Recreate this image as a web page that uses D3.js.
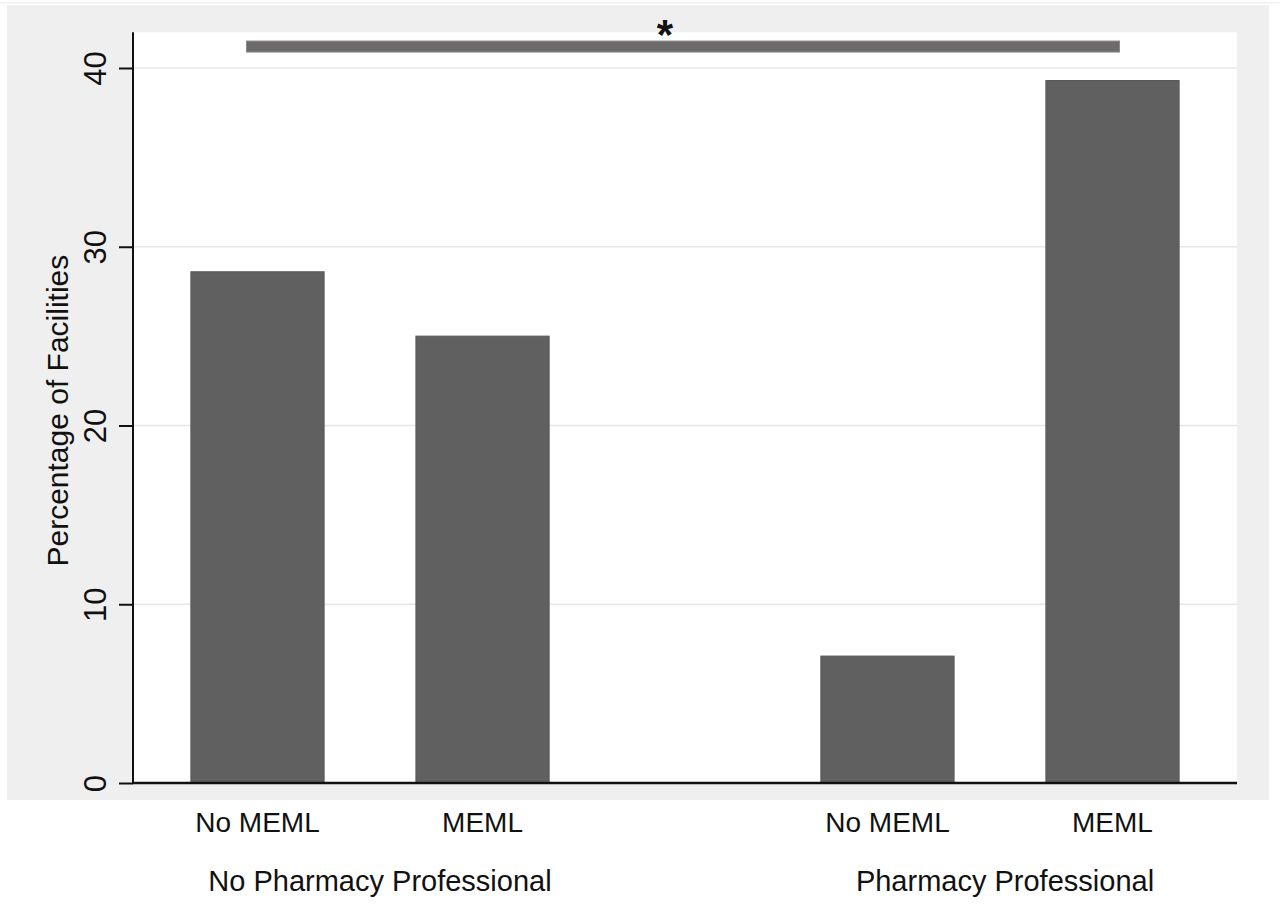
<!DOCTYPE html>
<html>
<head>
<meta charset="utf-8">
<script src="https://cdn.jsdelivr.net/npm/d3@7"></script>
<style>
  body { margin: 0; background: #fff; }
  svg { display: block; font-family: "Liberation Sans", Arial, sans-serif; }
</style>
</head>
<body>
<div class="chart"></div>
<script>
// values
const groups = ["No Pharmacy Professional", "Pharmacy Professional"];
const lists = ["No MEML", "MEML"];
const noPharmPct = [28.6, 25.0];
const pharmPct = [7.1, 39.3];
const yTicks = [0, 10, 20, 30, 40];
const sigLevel = 41.2;
const starLevel = 42.1;
const sigLabel = "*";

const data = [];
groups.forEach((g, i) => {
    const vals = i === 0 ? noPharmPct : pharmPct;
    lists.forEach((l, j) => data.push({group: g, list: l, pct: vals[j]}));
});

const width = 1280, height = 908;
const plot = {left: 133, right: 1237, bottom: 783};

const svg = d3.select('.chart').append('svg')
    .attr("width", width)
    .attr("height", height);

// outer grey panel
svg.append("rect")
    .attr("x", 0).attr("y", 2).attr("width", width).attr("height", 1.5)
    .attr("fill", "#f2f2f2");
svg.append("rect")
    .attr("x", 7).attr("y", 5).attr("width", 1262).attr("height", 795)
    .attr("fill", "#efefef");

const yScale = d3.scaleLinear()
    .domain([0, 40])
    .range([plot.bottom, 68]);

const plotTop = yScale(42);

const xGroup = d3.scaleBand()
    .domain(groups)
    .range([plot.left, plot.right])
    .paddingInner(0.2856)
    .paddingOuter(0.019);

const xList = d3.scaleBand()
    .domain(lists)
    .range([0, xGroup.bandwidth()])
    .paddingInner(0.408)
    .paddingOuter(0.204);

const barX = d => xGroup(d.group) + xList(d.list);
const barMid = d => barX(d) + xList.bandwidth() / 2;

// white plot region
svg.append("rect")
    .attr("x", plot.left).attr("y", plotTop)
    .attr("width", plot.right - plot.left).attr("height", plot.bottom - plotTop)
    .attr("fill", "#fff");

// grid lines
svg.append("g")
    .selectAll("line")
    .data(yTicks.filter(t => t > 0))
    .enter()
    .append("line")
    .attr("x1", plot.left).attr("x2", plot.right)
    .attr("y1", d => yScale(d)).attr("y2", d => yScale(d))
    .attr("stroke", "#e6e6e6")
    .attr("stroke-width", 1.5);

// bars
svg.selectAll('rect.bar')
    .data(data)
    .enter()
    .append('rect')
    .attr('class', 'bar')
    .attr('x', barX)
    .attr('y', d => yScale(d.pct))
    .attr('width', xList.bandwidth())
    .attr('height', d => plot.bottom - yScale(d.pct))
    .attr('fill', '#606060')
    .attr('stroke', '#585858')
    .attr('stroke-width', 1);

// significance bar
const first = data[0], last = data[data.length - 1];
svg.append("rect")
    .attr("x", barMid(first) - 11)
    .attr("y", yScale(sigLevel) - 5.5)
    .attr("width", barMid(last) + 7 - (barMid(first) - 11))
    .attr("height", 11)
    .attr("fill", "#6d6a6b")
    .attr("stroke", "#8a8888")
    .attr("stroke-width", 1);

svg.append("text")
    .attr("x", (xGroup.range()[0] + xGroup.range()[1]) / 2 - 20)
    .attr("y", yScale(starLevel) + 19)
    .attr("text-anchor", "middle")
    .attr("font-size", "42px")
    .attr("font-weight", "bold")
    .attr("fill", "#111")
    .text(sigLabel);

// y axis
const yAxis = d3.axisLeft(yScale)
    .tickValues(yTicks)
    .tickSize(14)
    .tickPadding(13);

const yg = svg.append("g")
    .attr("class", "y-axis")
    .attr("transform", `translate(${plot.left}, 0)`)
    .call(yAxis);
yg.select(".domain").remove();
yg.selectAll(".tick line").attr("stroke", "#111").attr("stroke-width", 2);
yg.selectAll(".tick text")
    .attr("font-size", "31px")
    .attr("fill", "#111")
    .attr("font-family", "Liberation Sans, Arial, sans-serif")
    .attr("transform", "rotate(-90)")
    .attr("x", 0)
    .attr("y", -27)
    .attr("dy", 0)
    .attr("text-anchor", "middle");

svg.append("line")
    .attr("x1", plot.left).attr("x2", plot.left)
    .attr("y1", plotTop).attr("y2", plot.bottom + 1)
    .attr("stroke", "#111").attr("stroke-width", 2);
svg.append("line")
    .attr("x1", plot.left - 1).attr("x2", plot.right)
    .attr("y1", plot.bottom).attr("y2", plot.bottom)
    .attr("stroke", "#111").attr("stroke-width", 2.5);

svg.append("text")
    .attr('class', 'axis-title')
    .attr("transform", `translate(68, ${(plotTop + plot.bottom) / 2 + 3}) rotate(-90)`)
    .attr("text-anchor", "middle")
    .attr("font-size", "30px")
    .attr("fill", "#111")
    .text("Percentage of Facilities");

// category labels
svg.selectAll("text.cat")
    .data(data)
    .enter()
    .append("text")
    .attr("class", "cat")
    .attr("x", barMid)
    .attr("y", 832)
    .attr("text-anchor", "middle")
    .attr("font-size", "28px")
    .attr("fill", "#111")
    .text(d => d.list);

svg.selectAll("text.grp")
    .data(groups)
    .enter()
    .append("text")
    .attr("class", "grp")
    .attr("x", (d, i) => xGroup(d) + xGroup.bandwidth() / 2 + (i === 0 ? 10 : 5))
    .attr("y", 891)
    .attr("text-anchor", "middle")
    .attr("font-size", "29px")
    .attr("fill", "#111")
    .text(d => d);
</script>
</body>
</html>
